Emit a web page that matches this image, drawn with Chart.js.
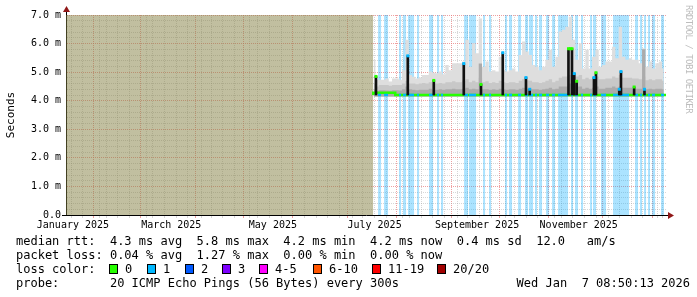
<!DOCTYPE html>
<html><head><meta charset="utf-8">
<script src="https://cdn.jsdelivr.net/npm/chart.js@4.4.1/dist/chart.umd.min.js"></script>
<style>
html,body{margin:0;padding:0;background:#fff;}
body{width:697px;height:297px;position:relative;overflow:hidden;font-family:'DejaVu Sans Mono',monospace;}
#c{position:absolute;left:0;top:0;}
.t{position:absolute;font-size:12px;line-height:14px;white-space:pre;color:#000;}
.sq{position:absolute;box-sizing:border-box;width:9px;height:10px;border:1px solid #000;}
#wm{position:absolute;left:684px;top:5px;writing-mode:vertical-rl;font-size:9px;letter-spacing:-0.5px;color:#bdbdbd;line-height:9px;white-space:pre;}
</style></head><body>
<canvas id="c" width="697" height="235"></canvas>
<div id="wm">RRDTOOL / TOBI OETIKER</div>
<div class="t" style="left:16px;top:234px">median rtt:  4.3 ms avg  5.8 ms max  4.2 ms min  4.2 ms now  0.4 ms sd  12.0   am/s</div>
<div class="t" style="left:16px;top:248px">packet loss: 0.04 % avg  1.27 % max  0.00 % min  0.00 % now</div>
<div class="t" style="left:16px;top:262px">loss color:</div>
<div id="lossLegend"></div>
<div class="t" style="left:16px;top:276px">probe:       20 ICMP Echo Pings (56 Bytes) every 300s</div>
<div class="t" style="right:7px;top:276px;text-align:right">Wed Jan  7 08:50:13 2026</div>
<script>
// ---- axis ranges (days since 2025-01-01 00:00) ----
const xMin = 11.35, xMax = 371.37;
const yMin = 0, yMax = 7;
const monthStartDays = [31, 59, 90, 120, 151, 181, 212, 243, 273, 304, 334, 365];
const labelDays = [15.5, 74.5, 135.5, 196.5, 258, 319];
const monthLabels = ['January 2025', 'March 2025', 'May 2025', 'July 2025', 'September 2025', 'November 2025'];
const firstSunday = 18;

// ---- no-data period ----
const noDataEnd = 195.7;

// ---- smoke (ms) ----
const smokeDays = [196,198,200,202,204,206,208,210,212,214,216,218,220,222,224,226,228,230,232,234,
  236,238,240,242,244,246,248,250,252,254,256,258,260,262,264,266,268,270,272,274,
  276,278,280,282,284,286,288,290,292,294,296,298,300,302,304,306,308,310,312,314,
  316,318,320,322,324,326,328,330,332,334,336,338,340,342,344,346,348,350,352,354,
  356,358,360,362,364,366,368,370];
const smokeMax = [5.43,4.73,4.73,4.73,4.78,4.67,4.78,4.78,4.73,5.07,
  6.13,4.9,4.84,4.78,4.81,4.9,4.9,5.02,4.98,4.96,
  5.02,4.93,5.25,5.07,5.31,5.31,5.31,5.37,6.13,5.19,
  6.01,5.66,6.88,5.19,5.37,5.02,5.07,5.02,5.54,5.07,
  5.02,5.07,5.13,5.02,5.6,6.07,5.72,5.6,5.25,5.19,
  5.07,5.19,5.43,5.78,5.19,5.54,6.42,6.48,6.59,6.94,
  6.13,5.43,6.01,5.13,5.78,5.13,5.54,5.78,5.19,5.25,
  5.37,5.37,5.89,5.49,6.59,5.54,5.43,5.49,5.43,5.43,
  5.31,5.84,5.19,5.37,5.13,5.31,5.37,5.13];
const smokeMid = [4.6,4.5,4.55,4.55,4.55,4.52,4.55,4.55,4.55,4.6,
  4.7,4.6,4.6,4.58,4.6,4.62,4.6,4.65,4.6,4.6,
  4.62,4.6,4.65,4.65,4.68,4.65,4.65,4.7,4.75,4.65,
  4.7,4.65,4.8,4.65,4.68,4.62,4.65,4.62,4.7,4.65,
  4.62,4.65,4.65,4.62,4.7,4.75,4.72,4.7,4.65,4.65,
  4.62,4.65,4.7,4.75,4.65,4.7,4.8,4.85,4.85,4.9,
  4.95,4.85,4.9,4.75,4.8,4.75,4.8,4.85,4.75,4.75,
  4.78,4.78,4.85,4.8,4.9,4.8,4.8,4.8,4.78,4.78,
  4.75,4.85,4.72,4.75,4.72,4.75,4.75,4.7];
const smokeLow = [4.4,4.35,4.37,4.37,4.36,4.35,4.37,4.37,4.36,4.4,
  4.5,4.4,4.38,4.37,4.38,4.38,4.38,4.42,4.38,4.38,
  4.4,4.38,4.4,4.4,4.42,4.4,4.4,4.42,4.45,4.4,
  4.42,4.4,5.3,4.4,4.4,4.38,4.4,4.38,4.42,4.4,
  4.38,4.4,4.4,4.38,4.42,4.45,4.42,4.42,4.4,4.4,
  4.38,4.4,4.42,4.45,4.4,4.42,4.5,4.5,4.5,4.6,
  4.55,4.5,4.5,4.42,4.45,4.42,4.45,4.5,4.42,4.42,
  4.45,4.45,4.5,4.45,4.5,4.45,4.45,4.45,4.42,4.42,
  4.42,5.8,4.4,4.42,4.4,4.42,4.42,4.4];
const smokeFloor = 4.15;

// ---- median rtt (ms) ----
const medianDays = [195.7, 208.9, 210.4, 371.37];
const medianVals = [4.2, 4.28, 4.2, 4.2];
const medianBase = 4.2;

// ---- median spikes ----
const spikeDays = [197.35,216.43,232.03,250.03,260.35,273.43,287.35,289.57,312.85,314.95,316.33,317.77,328.15,329.35,343.33,344.35,352.25,358.45];
const spikeTops = [4.85,5.57,4.71,5.3,4.57,5.68,4.81,4.4,5.82,5.82,4.95,4.68,4.81,4.98,4.4,5.02,4.48,4.4];
const spikeLoss = [0,1,0,1,0,1,1,1,0,0,1,0,1,0,1,1,0,1];
const plateauDays = [313.9];
const plateauVals = [5.82];
const plateauLoss = [0];

// ---- packet-loss periods (1/20 lost) ----
const lossStart = [198.6,202.2,211.2,213.6,216.6,222.0,229.2,234.0,236.4,250.2,253.2,261.6,265.2,274.8,277.2,282.6,286.8,289.2,292.8,295.2,299.4,303.0,306.6,314.4,316.8,320.4,325.8,327.6,332.4,339.6,347.4,352.8,355.8,358.2,360.6,363.0,368.4];
const lossEnd   = [200.4,204.6,212.4,215.4,220.2,223.2,231.6,235.2,237.6,252.6,257.4,262.8,266.4,276.0,279.0,284.4,288.6,291.6,294.0,297.0,301.2,304.8,312.6,315.6,318.6,321.6,327.0,329.4,335.4,347.4,349.2,354.6,357.0,359.4,361.8,364.8,370.2];

// ---- loss colour legend ----
const lossLabels = ['0','1','2','3','4-5','6-10','11-19','20/20'];
const lossColors = ['#26ff00','#00b8ff','#0059ff','#7e00ff','#ff00ff','#ff5500','#ff0000','#a10000'];
const lossLegendX = [109,147,185,222,259,313,372,437];

(function buildLegend(){
  const host = document.getElementById('lossLegend');
  lossLabels.forEach((lab, i) => {
    const sq = document.createElement('div');
    sq.className = 'sq';
    sq.style.left = lossLegendX[i] + 'px';
    sq.style.top = '264px';
    sq.style.background = lossColors[i];
    host.appendChild(sq);
    const tx = document.createElement('div');
    tx.className = 't';
    tx.style.left = (lossLegendX[i] + 16) + 'px';
    tx.style.top = '262px';
    tx.textContent = lab;
    host.appendChild(tx);
  });
})();

const gridRed = 'rgba(232,120,120,0.7)';
const gridGray = 'rgba(160,160,160,0.42)';
const mono = 'DejaVu Sans Mono';
const isMajor = v => Math.abs(v - Math.round(v)) < 1e-9;
const tickVal = c => (c && c.tick) ? c.tick.value : NaN;

const yTicks = [];
for (let i = 0; i <= 35; i++) yTicks.push(i / 5);
const weekTicks = [];
for (let d = firstSunday; d < xMax; d += 7) weekTicks.push(d);
const xGridTicks = [...new Set([...weekTicks, ...monthStartDays])].sort((a, b) => a - b);

const lossBand = [];
lossStart.forEach((a, i) => {
  const b = lossEnd[i];
  lossBand.push({x: a, y: yMin}, {x: a, y: yMax}, {x: b, y: yMax}, {x: b, y: yMin});
});
const lossMedian = [];
lossStart.forEach((a, i) => {
  lossMedian.push({x: a, y: medianBase}, {x: lossEnd[i], y: medianBase}, {x: lossEnd[i], y: null});
});
const series = vals => smokeDays.map((d, i) => ({x: d, y: vals[i]}));
const tipPts = spikeDays.map((d, i) => ({x: d, y: spikeTops[i]})).concat(plateauDays.map((d, i) => ({x: d, y: plateauVals[i]})));
const tipCols = spikeLoss.map(l => lossColors[l]).concat(plateauLoss.map(l => lossColors[l]));

const axisArrows = {
  id: 'axisArrows',
  afterDraw(chart) {
    const {ctx, chartArea: {left, right, top, bottom}} = chart;
    const ax = Math.round(left) + 0.5, ay = Math.round(bottom) + 0.5;
    ctx.save();
    ctx.strokeStyle = '#000';
    ctx.lineWidth = 1;
    ctx.beginPath();
    ctx.moveTo(ax, top); ctx.lineTo(ax, top - 5);
    ctx.moveTo(left - 4, ay); ctx.lineTo(left, ay);
    ctx.moveTo(right, ay); ctx.lineTo(right + 4, ay);
    ctx.stroke();
    ctx.fillStyle = '#901818';
    ctx.beginPath();
    ctx.moveTo(ax, top - 9); ctx.lineTo(ax - 3.5, top - 3); ctx.lineTo(ax + 3.5, top - 3); ctx.closePath(); ctx.fill();
    ctx.beginPath();
    ctx.moveTo(right + 8, ay); ctx.lineTo(right + 2, ay - 3.5); ctx.lineTo(right + 2, ay + 3.5); ctx.closePath(); ctx.fill();
    ctx.restore();
  }
};

new Chart(document.getElementById('c'), {
  type: 'line',
  data: {
    datasets: [
      {label: 'unknown', data: [{x: xMin, y: yMax}, {x: noDataEnd, y: yMax}], fill: 'origin',
        backgroundColor: 'rgba(131,127,66,0.5)', borderColor: 'rgba(0,0,0,0)', borderWidth: 0, pointRadius: 0, order: 10},
      {label: 'loss', data: lossBand, fill: 'origin', backgroundColor: 'rgba(0,170,255,0.33)',
        borderColor: 'rgba(0,0,0,0)', borderWidth: 0, pointRadius: 0, order: 9},
      {label: 'smokeMax', data: series(smokeMax), stepped: 'middle', fill: {value: smokeFloor},
        backgroundColor: '#dedede', borderColor: 'rgba(0,0,0,0)', borderWidth: 0, pointRadius: 0, order: 8},
      {label: 'smokeMid', data: series(smokeMid), stepped: 'middle', fill: {value: smokeFloor},
        backgroundColor: '#c8c8c8', borderColor: 'rgba(0,0,0,0)', borderWidth: 0, pointRadius: 0, order: 7},
      {label: 'smokeLow', data: series(smokeLow), stepped: 'middle', fill: {value: smokeFloor},
        backgroundColor: '#ababab', borderColor: 'rgba(0,0,0,0)', borderWidth: 0, pointRadius: 0, order: 6},
      {label: 'median', data: medianDays.map((d, i) => ({x: d, y: medianVals[i]})), stepped: 'after', fill: false,
        borderColor: lossColors[0], borderWidth: 2.5, pointRadius: 0, order: 4},
      {label: 'medianLoss', data: lossMedian, fill: false, spanGaps: false,
        borderColor: lossColors[1], borderWidth: 2.5, pointRadius: 0, order: 3},
      {type: 'bar', label: 'spikes', data: spikeDays.map((d, i) => ({x: d, y: [medianBase, spikeTops[i]]})),
        backgroundColor: '#111111', barThickness: 2, grouped: false, order: 2},
      {label: 'tips', data: tipPts, showLine: false, pointStyle: 'rect', pointRadius: 2.1,
        pointBackgroundColor: tipCols, pointBorderWidth: 0, pointBorderColor: 'rgba(0,0,0,0)', order: 1}
    ]
  },
  options: {
    responsive: false, animation: false, devicePixelRatio: 1, events: [],
    layout: {padding: {top: 15, right: 31, left: 0, bottom: 0}},
    plugins: {legend: {display: false}, tooltip: {enabled: false}},
    scales: {
      x: {
        type: 'linear', min: xMin, max: xMax, position: 'bottom', offset: false,
        afterBuildTicks: s => { s.ticks = xGridTicks.map(v => ({value: v})); },
        afterFit: s => { s.height = 0; },
        ticks: {display: false, autoSkip: false},
        grid: {color: c => monthStartDays.includes(tickVal(c)) ? gridRed : gridGray, lineWidth: 1, drawTicks: true, tickLength: 3},
        border: {display: true, color: '#000', width: 1, dash: [1, 1]}
      },
      xl: {
        type: 'linear', min: xMin, max: xMax, position: 'bottom', offset: false,
        afterBuildTicks: s => { s.ticks = labelDays.map(v => ({value: v})); },
        afterFit: s => { s.height = 20; },
        ticks: {autoSkip: false, maxRotation: 0, padding: 4, color: '#000', font: {family: mono, size: 10},
          callback: (v, i) => monthLabels[i]},
        grid: {display: false, drawTicks: false},
        border: {display: false}
      },
      y: {
        type: 'linear', min: yMin, max: yMax, position: 'left',
        afterBuildTicks: s => { s.ticks = yTicks.map(v => ({value: v})); },
        afterFit: s => { s.width = 66; },
        ticks: {autoSkip: false, padding: 5, color: '#000', font: {family: mono, size: 10},
          callback: v => isMajor(v) ? (Math.round(v) === 0 ? '0.0' : v.toFixed(1) + ' m') : ''},
        grid: {color: c => isMajor(tickVal(c)) ? gridRed : gridGray, lineWidth: 1, drawTicks: false},
        border: {display: true, color: '#000', width: 1, dash: [1, 1]},
        title: {display: true, text: 'Seconds', color: '#000', font: {family: mono, size: 11}, padding: {top: 5, bottom: 0}}
      }
    }
  },
  plugins: [axisArrows]
});
</script>
</body></html>
